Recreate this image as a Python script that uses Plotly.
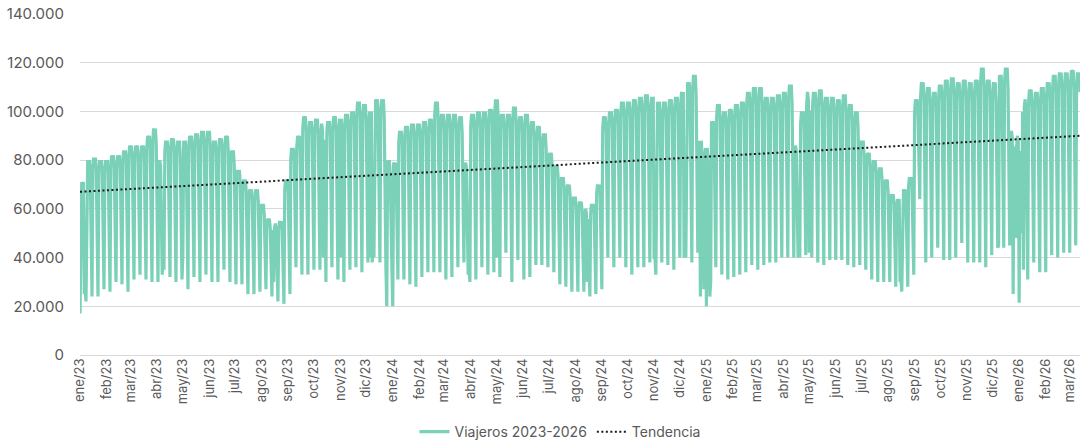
import datetime as dt
import plotly.graph_objects as go

# ---------------- data ----------------
FIRST_DAY = "2023-01-01"
FIRST_VALUE = 17000            # Sunday 1 Jan 2023
WEEK_START = "2023-01-02"      # first Monday
LAST_DAY = "2026-03-13"

# weekday level (thousands) per week, Mon 2 Jan 2023 ... Mon 9 Mar 2026
week_high = [
    71, 80, 81, 80, 80, 82, 82, 84, 86, 86, 86, 90, 93, 80, 88, 89, 88, 88, 90, 91,
    92, 92, 88, 89, 90, 84, 76, 72, 68, 68, 62, 56, 54, 55, 72, 85, 90, 98, 96, 97,
    95, 96, 98, 97, 99, 100, 104, 103, 100, 105, 105, 80,
    79, 92, 94, 95, 95, 96, 97, 104, 99, 99, 99, 98, 79, 99, 100, 100, 101, 105, 99, 99,
    102, 98, 99, 96, 94, 91, 83, 78, 73, 70, 65, 63, 60, 62, 70, 98, 100, 101, 104, 104,
    105, 106, 107, 106, 104, 104, 105, 106, 108, 112, 115, 88, 85,
    96, 103, 100, 101, 103, 104, 108, 110, 110, 106, 106, 107, 108, 111, 86, 100, 108, 108,
    109, 106, 106, 105, 107, 103, 100, 88, 83, 80, 77, 72, 66, 64, 68, 73, 105, 112, 110,
    108, 111, 113, 114, 112, 113, 112, 113, 118, 113, 112, 115, 118, 92, 90,
    105, 109, 108, 110, 112, 115, 116, 116, 117, 116,
]
# weekend level (thousands) per week
week_low = [
    22, 24, 24, 27, 26, 30, 29, 26, 31, 33, 31, 30, 30, 35, 32, 30, 31, 27, 32, 30,
    33, 30, 30, 35, 30, 29, 29, 25, 25, 26, 27, 24, 22, 21, 25, 36, 33, 33, 35, 35,
    30, 36, 31, 30, 35, 36, 34, 38, 40, 38, 36, 35,
    31, 31, 29, 28, 32, 34, 34, 34, 31, 32, 36, 38, 30, 31, 36, 33, 34, 32, 42, 30,
    39, 31, 32, 37, 37, 36, 34, 29, 28, 26, 26, 26, 24, 25, 27, 40, 36, 40, 36, 33,
    36, 36, 38, 33, 38, 37, 35, 40, 40, 38, 42, 27, 24,
    36, 33, 31, 32, 33, 34, 37, 35, 37, 38, 38, 40, 40, 40, 40, 41, 40, 38,
    37, 39, 39, 39, 37, 36, 37, 35, 31, 30, 30, 30, 28, 26, 28, 33, 64, 38, 40,
    44, 39, 39, 40, 46, 38, 38, 38, 36, 41, 44, 44, 45, 48, 50,
    31, 38, 34, 34, 41, 40, 42, 42, 45, 45,
]
# share of the week's level reached on each weekday, Mon..Fri
weekday_share = [0.95, 1.00, 0.97, 1.00, 0.93]
saturday_share = 1.20

# holidays and special days
holiday_dates = [
    "2023-01-06", "2023-04-06", "2023-04-07", "2023-05-01", "2023-08-15", "2023-10-12",
    "2023-11-01", "2023-12-06", "2023-12-08", "2023-12-25", "2024-01-01", "2024-03-28",
    "2024-03-29", "2024-05-01", "2024-08-15", "2024-11-01", "2024-12-06", "2024-12-25",
    "2025-01-01", "2025-01-06", "2025-04-17", "2025-04-18", "2025-05-01", "2025-08-15",
    "2025-12-08", "2025-12-25", "2026-01-01", "2026-01-06",
]
holiday_values = [
    25000, 45000, 33000, 40000, 30000, 40000,
    40000, 40000, 38000, 20000, 20000, 45000,
    33000, 40000, 30000, 40000, 40000, 24000,
    20000, 30000, 47000, 40000, 42000, 30000,
    45000, 25000, 21500, 35000,
]

trend_dates = [FIRST_DAY, LAST_DAY]
trend_values = [67000, 90000]

month_names = ["ene", "feb", "mar", "abr", "may", "jun",
               "jul", "ago", "sep", "oct", "nov", "dic"]

SERIES_NAME = "Viajeros 2023-2026"
TREND_NAME = "Tendencia"

# ---------------- build daily series ----------------
assert len(week_high) == len(week_low)
start = dt.date.fromisoformat(WEEK_START)
last = dt.date.fromisoformat(LAST_DAY)
special = {dt.date.fromisoformat(d): v for d, v in zip(holiday_dates, holiday_values)}

x = [dt.date.fromisoformat(FIRST_DAY)]
y = [FIRST_VALUE]
for w, (hi, lo) in enumerate(zip(week_high, week_low)):
    for d in range(7):
        day = start + dt.timedelta(days=7 * w + d)
        if day > last:
            break
        if d < 5:
            val = hi * 1000 * weekday_share[d]
        elif d == 5:
            val = lo * 1000 * saturday_share
        else:
            val = lo * 1000
        if day in special:
            val = special[day]
        x.append(day)
        y.append(val)

# month ticks
tickvals, ticktext = [], []
m = dt.date(2023, 1, 1)
while m <= last:
    tickvals.append(m.isoformat())
    ticktext.append(f"{month_names[m.month - 1]}/{str(m.year)[2:]}")
    m = dt.date(m.year + (m.month // 12), m.month % 12 + 1, 1)

# ---------------- figure ----------------
FONT = "Inter, Open Sans, sans-serif"
GREY = "#595959"

fig = go.Figure()
fig.add_trace(go.Scatter(
    x=x, y=y, mode="lines", name=SERIES_NAME,
    line=dict(color="#7ad1b7", width=3.2),
))
fig.add_trace(go.Scatter(
    x=trend_dates, y=trend_values, mode="lines", name=TREND_NAME,
    line=dict(color="#1a1a1a", width=2, dash="2px,2.5px"),
))

fig.update_layout(
    width=1082, height=441,
    margin=dict(l=80, r=2, t=14, b=86, autoexpand=False),
    paper_bgcolor="white", plot_bgcolor="white",
    separators=",.",
    font=dict(family=FONT, color=GREY, size=12),
    showlegend=True,
    legend=dict(orientation="h", x=0.48, xanchor="center", y=-0.226, yanchor="middle",
                font=dict(family=FONT, size=14, color=GREY)),
    xaxis=dict(
        type="date", automargin=False,
        range=[FIRST_DAY, LAST_DAY],
        tickmode="array", tickvals=tickvals, ticktext=ticktext,
        tickangle=-90, tickfont=dict(family=FONT, size=13, color=GREY),
        showgrid=False, zeroline=False, showline=False, ticks="",
    ),
    yaxis=dict(
        automargin=False,
        range=[0, 140000], dtick=20000, tickformat=",.0f",
        showgrid=True, gridcolor="#d9d9d9", gridwidth=1,
        zeroline=True, zerolinecolor="#d9d9d9", zerolinewidth=1,
        showline=False, ticks="", ticklabelstandoff=15,
        tickfont=dict(family=FONT, size=15, color=GREY),
    ),
)

fig.write_html("out.html", config={"displayModeBar": False},
               post_script="document.body.style.margin='0px';")
